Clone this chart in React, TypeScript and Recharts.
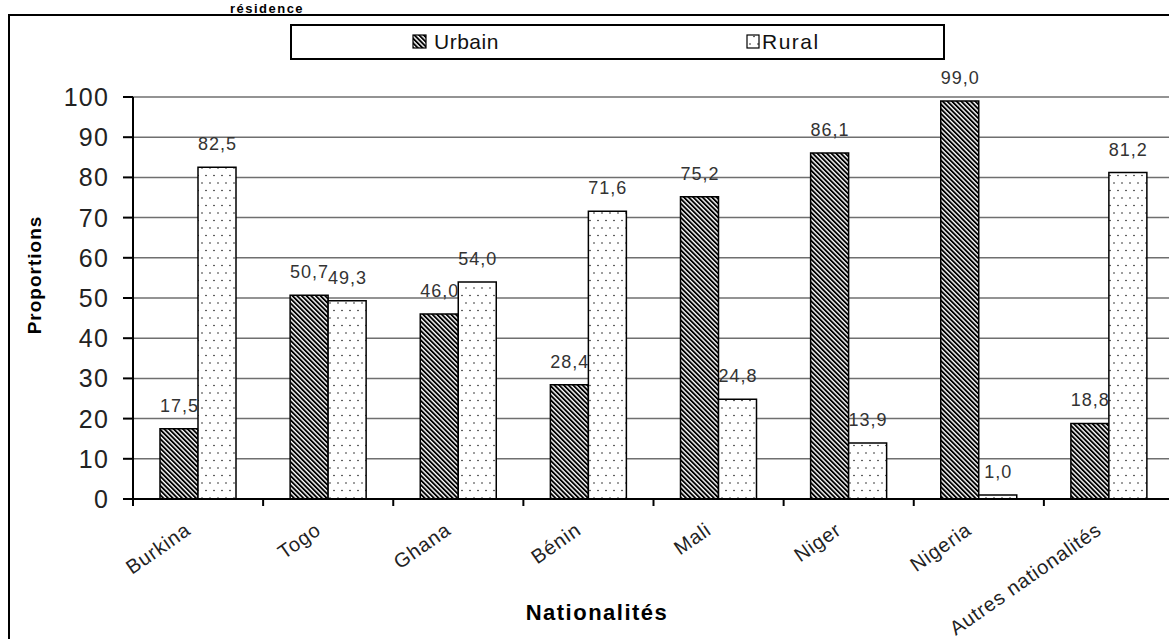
import React from 'react';
import { BarChart, Bar, XAxis, YAxis, CartesianGrid, Legend, LabelList } from 'recharts';

const categories = ['Burkina', 'Togo', 'Ghana', 'Bénin', 'Mali', 'Niger', 'Nigeria', 'Autres nationalités'];
const urbainValues = [17.5, 50.7, 46.0, 28.4, 75.2, 86.1, 99.0, 18.8];
const ruralValues = [82.5, 49.3, 54.0, 71.6, 24.8, 13.9, 1.0, 81.2];
const yTicks = [0, 10, 20, 30, 40, 50, 60, 70, 80, 90, 100];
const seriesNames = ['Urbain', 'Rural'];
const titleText = 'résidence';
const yTitle = 'Proportions';
const xTitle = 'Nationalités';

const data = categories.map((c, i) => ({ name: c, urbain: urbainValues[i], rural: ruralValues[i] }));

const FONT = '"Liberation Sans", Arial, Helvetica, sans-serif';
const fmt = (v: number) => Number(v).toFixed(1).replace('.', ',');

const PatternDefs = ({ prefix }: { prefix: string }) => (
  <defs>
    <pattern id={`${prefix}hatch`} patternUnits="userSpaceOnUse" width={3.3} height={3.3} patternTransform="rotate(-45)">
      <rect x={0} y={0} width={3.3} height={3.3} fill="#fff" />
      <rect x={0} y={0} width={1.9} height={3.3} fill="#000" />
    </pattern>
    <pattern id={`${prefix}dots`} patternUnits="userSpaceOnUse" width={8} height={15}>
      <rect x={0} y={0} width={8} height={15} fill="#fff" />
      <circle cx={2} cy={3} r={0.8} fill="#222" />
      <circle cx={6} cy={10.5} r={0.8} fill="#222" />
    </pattern>
  </defs>
);

const XTick = (props: any) => {
  const { x, y, payload, index } = props;
  const off = payload && payload.offset != null ? payload.offset : 0;
  const ax = x - 6;
  const ay = y + 34;
  return (
    <g>
      <line x1={x - off} y1={y} x2={x - off} y2={y + 7} stroke="#000" strokeWidth={2} />
      {index === categories.length - 1 && (
        <line x1={x + off} y1={y} x2={x + off} y2={y + 7} stroke="#000" strokeWidth={2} />
      )}
      <text
        x={ax}
        y={ay}
        transform={`rotate(-35, ${ax}, ${ay})`}
        textAnchor="end"
        fontFamily={FONT}
        fontSize={20}
        letterSpacing={0.8}
        fill="#222"
      >
        {payload.value}
      </text>
    </g>
  );
};

const YTick = (props: any) => {
  const { x, y, payload } = props;
  return (
    <text x={x} y={y + 9} textAnchor="end" fontFamily={FONT} fontSize={25} letterSpacing={1.2} fill="#222">
      {payload.value}
    </text>
  );
};

const renderLabel = (props: any) => {
  const { x, y, width, value } = props;
  return (
    <text
      x={Number(x) + Number(width) / 2 + 0.5}
      y={Number(y) - 17}
      textAnchor="middle"
      fontFamily={FONT}
      fontSize={18}
      letterSpacing={1}
      fill="#333"
    >
      {fmt(value)}
    </text>
  );
};

const LegendBox = () => (
  <div
    style={{
      width: 655,
      height: 36,
      border: '2px solid #000',
      boxSizing: 'border-box',
      background: '#fff',
    }}
  >
    <svg width={651} height={32} style={{ display: 'block' }}>
      <PatternDefs prefix="lg" />
      <rect x={121} y={9} width={13} height={13} fill="url(#lghatch)" stroke="#000" strokeWidth={1.2} />
      <text x={142} y={23} fontFamily={FONT} fontSize={21} letterSpacing={0.5} fill="#111">
        {seriesNames[0]}
      </text>
      <rect x={455} y={9} width={12} height={13} fill="url(#lgdots)" stroke="#000" strokeWidth={1.2} />
      <text x={470} y={23} fontFamily={FONT} fontSize={21} letterSpacing={1.5} fill="#111">
        {seriesNames[1]}
      </text>
    </svg>
  </div>
);

export default function App() {
  return (
    <div
      style={{
        position: 'absolute',
        left: 0,
        top: 0,
        width: 1169,
        height: 639,
        overflow: 'hidden',
        background: '#fff',
      }}
    >
      <svg
        width={1169}
        height={639}
        style={{ position: 'absolute', left: 0, top: 0, pointerEvents: 'none' }}
      >
        <rect x={9} y={15} width={1400} height={800} fill="none" stroke="#000" strokeWidth={2} />
        <text x={267} y={13} textAnchor="middle" fontFamily={FONT} fontWeight="bold" fontSize={13} letterSpacing={1.5} fill="#000">
          {titleText}
        </text>
        <text
          x={41}
          y={275}
          transform="rotate(-90, 41, 275)"
          textAnchor="middle"
          fontFamily={FONT}
          fontWeight="bold"
          fontSize={19}
          letterSpacing={1}
          fill="#000"
        >
          {yTitle}
        </text>
        <text x={597} y={620} textAnchor="middle" fontFamily={FONT} fontWeight="bold" fontSize={22} letterSpacing={1.5} fill="#000">
          {xTitle}
        </text>
      </svg>
      <BarChart
        width={1200}
        height={700}
        data={data}
        margin={{ top: 97, right: 26, left: 73, bottom: 121 }}
        barCategoryGap={27}
        barGap={0}
      >
        <PatternDefs prefix="ch" />
        <CartesianGrid vertical={false} stroke="#6f6f6f" strokeWidth={1.5} />
        <XAxis
          dataKey="name"
          height={80}
          interval={0}
          tickSize={0}
          tickMargin={0}
          tickLine={false}
          axisLine={{ stroke: '#000', strokeWidth: 2 }}
          tick={<XTick />}
        />
        <YAxis
          width={60}
          domain={[0, 100]}
          ticks={yTicks}
          interval={0}
          tickSize={10}
          tickMargin={14}
          tickLine={{ stroke: '#000', strokeWidth: 2 }}
          axisLine={{ stroke: '#000', strokeWidth: 2 }}
          tick={<YTick />}
        />
        <Legend
          verticalAlign="middle"
          align="center"
          layout="horizontal"
          content={() => <LegendBox />}
          wrapperStyle={{ position: 'absolute', left: 290, top: 24, width: 655, height: 36 }}
        />
        <Bar dataKey="urbain" name={seriesNames[0]} fill="url(#chhatch)" stroke="#000" strokeWidth={1.5} isAnimationActive={false}>
          <LabelList dataKey="urbain" content={renderLabel} />
        </Bar>
        <Bar dataKey="rural" name={seriesNames[1]} fill="url(#chdots)" stroke="#000" strokeWidth={1.5} isAnimationActive={false}>
          <LabelList dataKey="rural" content={renderLabel} />
        </Bar>
      </BarChart>
    </div>
  );
}
